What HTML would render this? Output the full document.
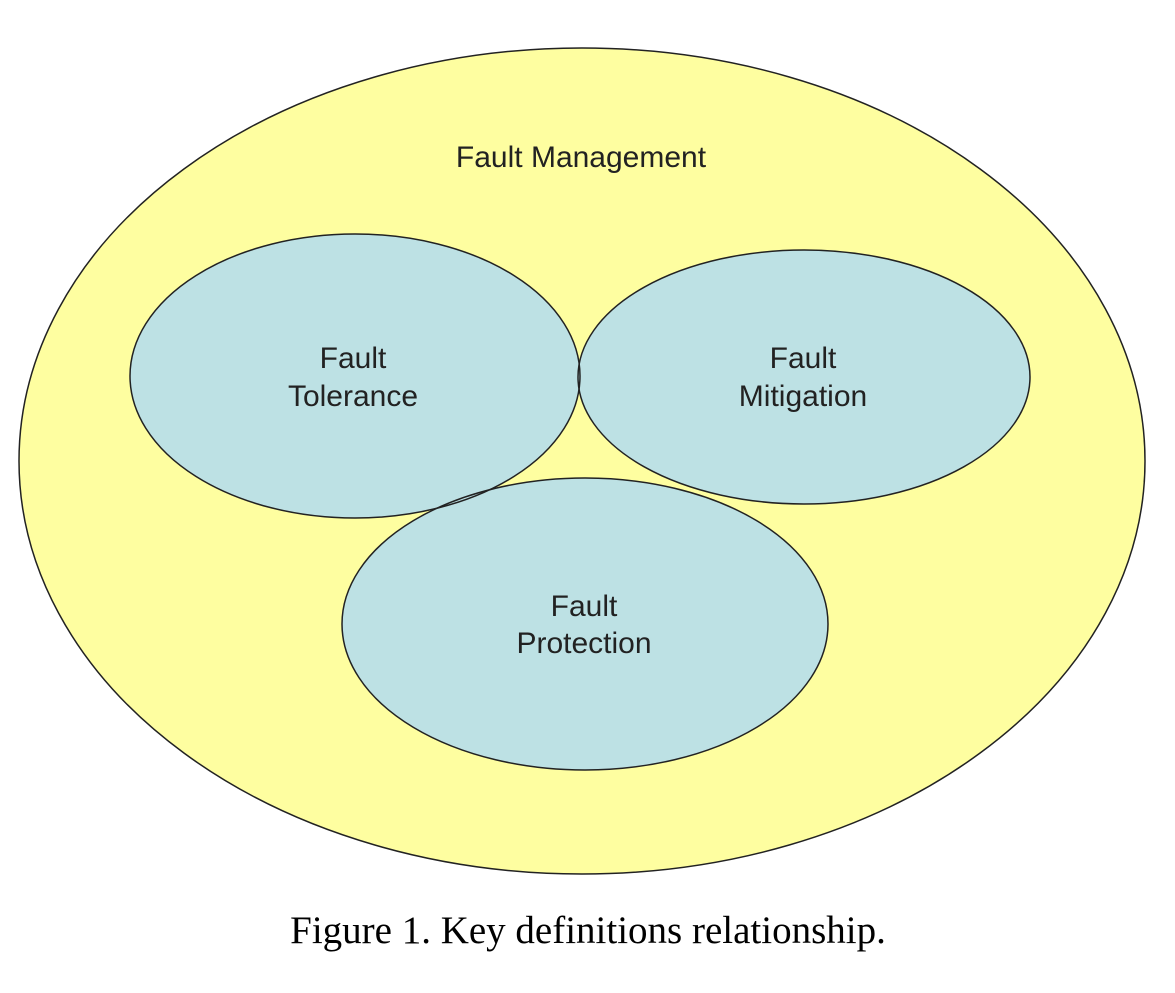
<!DOCTYPE html>
<html><head><style>body{margin:0;background:#fff}svg{display:block}</style></head><body>
<svg width="1175" height="993" xmlns="http://www.w3.org/2000/svg">
<ellipse cx="582" cy="461" rx="563" ry="413" fill="#fefea0" stroke="#222" stroke-width="1.5"/>
<g fill="#bde1e4">
<ellipse cx="355" cy="376" rx="225" ry="142"/>
<ellipse cx="804" cy="377" rx="226" ry="127"/>
<ellipse cx="585" cy="624" rx="243" ry="146"/>
</g>
<g fill="none" stroke="#222" stroke-width="1.5">
<ellipse cx="355" cy="376" rx="225" ry="142"/>
<ellipse cx="804" cy="377" rx="226" ry="127"/>
<ellipse cx="585" cy="624" rx="243" ry="146"/>
</g>
<g font-family="Liberation Sans, sans-serif" font-size="30" fill="#222" text-anchor="middle">
<text x="581" y="167">Fault Management</text>
<text x="353" y="368">Fault</text>
<text x="353" y="406">Tolerance</text>
<text x="803" y="368">Fault</text>
<text x="803" y="406">Mitigation</text>
<text x="584" y="616">Fault</text>
<text x="584" y="653">Protection</text>
</g>
<text x="588" y="943" font-family="Liberation Serif, serif" font-size="39" fill="#000" text-anchor="middle">Figure 1. Key definitions relationship.</text>
</svg>
</body></html>
